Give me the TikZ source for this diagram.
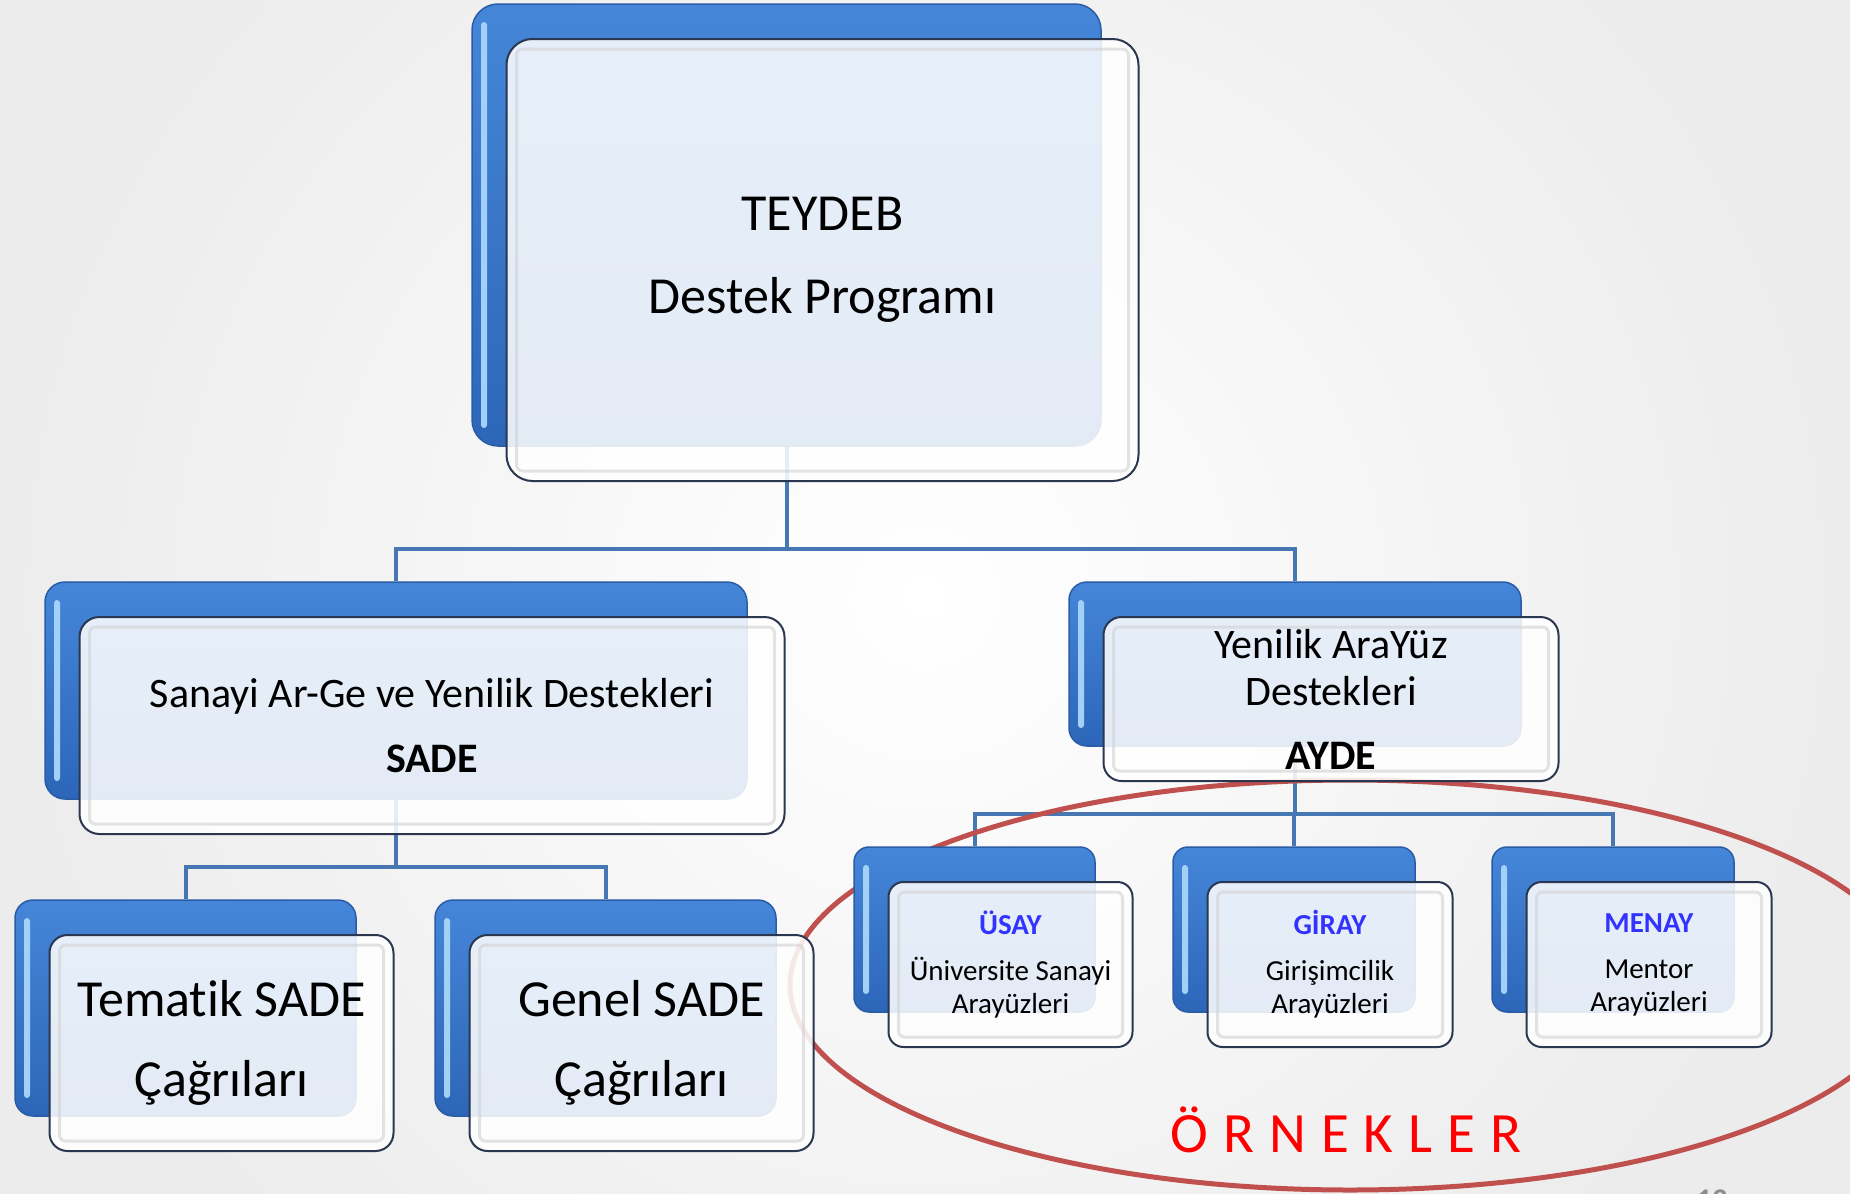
\documentclass[tikz,border=0pt]{standalone}
\usepackage{fontspec}
\setmainfont{Carlito}[Ligatures={NoCommon}, Contextuals={NoAlternate}]
\usetikzlibrary{calc}
\definecolor{bgc}{HTML}{ECECEC}
\definecolor{bbtop}{HTML}{4586D8}
\definecolor{bbbot}{HTML}{2D66B8}
\definecolor{bbline}{HTML}{2A5CA6}
\definecolor{bbhi}{HTML}{A3D0F7}
\definecolor{frline}{HTML}{2B3650}
\definecolor{connc}{HTML}{4777B3}
\definecolor{ovalc}{HTML}{C0504D}
\definecolor{usayc}{HTML}{3333FF}
\definecolor{redc}{HTML}{FF0000}
\pgfdeclarelayer{backmost}
\pgfdeclarelayer{behind}
\pgfsetlayers{backmost,behind,main}
\tikzset{
  backbox/.style={rectangle, inner sep=0pt, top color=bbtop, bottom color=bbbot,
    draw=bbline, line width=1.5pt,
    path picture={\fill[bbhi, rounded corners=3pt]
      ([xshift=9pt,yshift=-18pt]path picture bounding box.north west) rectangle
      ([xshift=15pt,yshift=18pt]path picture bounding box.south west);}},
  frontbox/.style={rectangle, inner sep=0pt, align=center, fill=white,
    fill opacity=0.87, text opacity=1, draw=frline, draw opacity=1, line width=2pt,
    path picture={\draw[draw=black!18, line width=3pt, draw opacity=0.6, rounded corners=6pt]
      ([xshift=10pt,yshift=-10pt]path picture bounding box.north west) rectangle
      ([xshift=-10pt,yshift=10pt]path picture bounding box.south east);}},
  conn/.style={draw=connc, line width=4pt},
  oval/.style={draw=ovalc, line width=5pt},
}
% #1 name, #2-#5 back box (x1,y1,x2,y2), #6 corner radius, #7 font, #8 text
\newcommand\BoxPair[8]{%
  \node[backbox, rounded corners=#6, minimum width={#4-#2}, minimum height={#5-#3}]
    (#1b) at ({(#2+#4)/2},{(#3+#5)/2}) {};
  \node[frontbox, rounded corners=#6, minimum width={#4-#2+3}, minimum height={#5-#3}, font=#7]
    (#1) at ({(#2+#4)/2+36},{(#3+#5)/2+35}) {#8};
}
\begin{document}
\begin{tikzpicture}[x=1pt,y=-1pt]
\useasboundingbox (0,0) rectangle (1850,1194);
\clip (0,0) rectangle (1850,1194);
\begin{pgfonlayer}{backmost}
  \fill[bgc] (0,0) rectangle (1850,1194);
  \shade[inner color=white, outer color=bgc] (0,-300) rectangle (1850,1494);
\end{pgfonlayer}

\BoxPair{top}{472}{4}{1101}{446}{26pt}{\fontsize{52}{83}\selectfont}{TEYDEB\\Destek Programı}
\BoxPair{sade}{45}{582}{747}{799}{20pt}{\fontsize{42}{65}\selectfont}{Sanayi Ar-Ge ve Yenilik Destekleri\\\textbf{SADE}}
\BoxPair{ayde}{1069}{582}{1521}{746}{18pt}{\fontsize{42}{47}\selectfont}{Yenilik AraYüz\\Destekleri\\[17pt]\textbf{AYDE}}
\BoxPair{tem}{15}{900}{356}{1116}{18pt}{\fontsize{52}{80}\selectfont}{Temat\kern0pt ik SADE\\Çağrıları}
\BoxPair{gen}{435}{900}{776}{1116}{18pt}{\fontsize{52}{80}\selectfont}{Genel SADE\\Çağrıları}
\BoxPair{usay}{854}{847}{1095}{1012}{15pt}{\fontsize{29}{33}\selectfont}{\textcolor{usayc}{\textbf{ÜSAY}}\\[13pt]Üniversite Sanayi\\Arayüzleri}
\BoxPair{giray}{1173}{847}{1415}{1012}{15pt}{\fontsize{29}{33}\selectfont}{\textcolor{usayc}{\textbf{GİRAY}}\\[13pt]Girişimcilik\\Arayüzleri}
\BoxPair{menay}{1492}{847}{1734}{1012}{15pt}{\fontsize{29}{33}\selectfont}{\textcolor{usayc}{\textbf{MENAY}}\\[13pt]Mentor\\Arayüzleri}

\begin{pgfonlayer}{behind}
  \coordinate (bus1) at (0,549);
  \coordinate (bus2) at (0,867);
  \coordinate (bus3) at (0,814);
  \draw[conn] (topb.center) -- (topb.center |- bus1) -| (sadeb.north);
  \draw[conn] (topb.center |- bus1) -| (aydeb.north);
  \draw[conn] (sadeb.center) -- (sadeb.center |- bus2) -| (temb.north);
  \draw[conn] (sadeb.center |- bus2) -| (genb.north);
  \draw[conn] (aydeb.center) -- (aydeb.center |- bus3) -| (usayb.north);
  \draw[conn] (aydeb.center |- bus3) -| (girayb.north);
  \draw[conn] (aydeb.center |- bus3) -| (menayb.north);
  \draw[oval] (1350,985) ellipse [x radius=560, y radius=205];
\end{pgfonlayer}

\node[font=\fontsize{57}{57}\selectfont, text=redc, inner sep=0pt] (ornek) at (1346,1130)
  {Ö\hspace{15pt}R\hspace{15pt}N\hspace{15pt}E\hspace{15pt}K\hspace{15pt}L\hspace{15pt}E\hspace{15pt}R};
\node[font=\fontsize{30}{30}\selectfont\bfseries, text=black!45, anchor=base, inner sep=0pt] (pg) at (1712,1209) {13};
\end{tikzpicture}
\end{document}
